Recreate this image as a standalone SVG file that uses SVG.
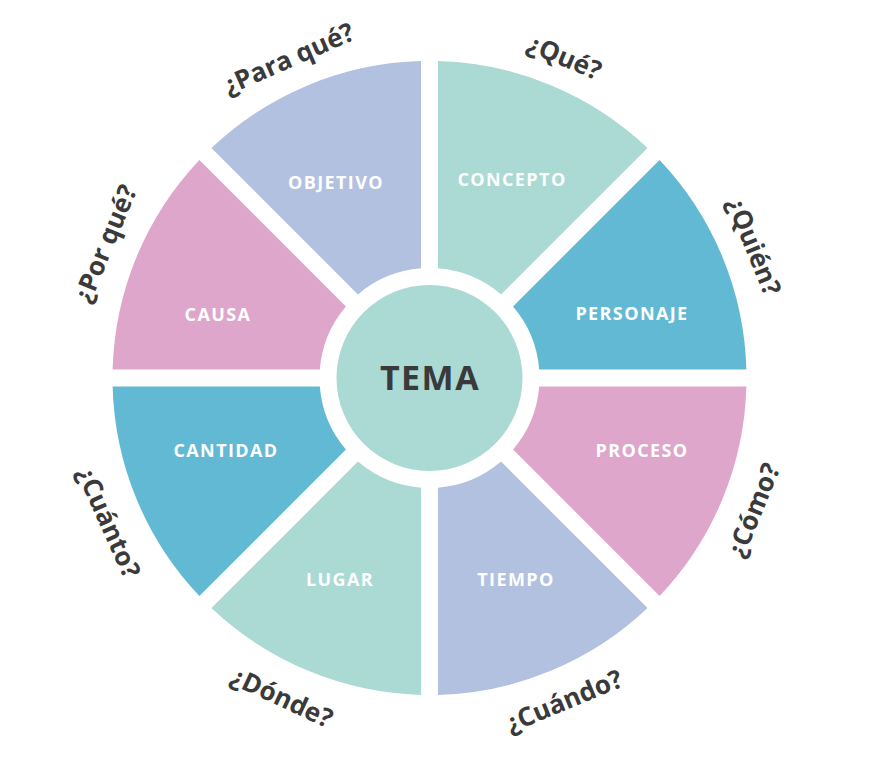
<svg xmlns="http://www.w3.org/2000/svg" width="896" height="762" viewBox="0 0 896 762">
<style>
.seg{stroke:none}
.teal{fill:#abd9d3}
.blue{fill:#62b9d3}
.pink{fill:#dea6cb}
.lav{fill:#b2c1e0}
.lbl{font-family:"Open Sans","Liberation Sans",sans-serif;font-weight:700;font-size:18px;fill:#ffffff;text-anchor:middle;letter-spacing:1.4px}
.q{font-family:"Open Sans","Liberation Sans",sans-serif;font-weight:700;font-size:26px;fill:#3a3a3a;text-anchor:middle}
.tema{font-family:"Open Sans","Liberation Sans",sans-serif;font-weight:700;font-size:34px;fill:#3a3a3a;text-anchor:middle;letter-spacing:1.5px}
</style>
<defs>
<path id="sector" d="M 8.5,-316.89 A 317 317 0 0 1 218.06,-230.08 L 71.54,-83.56 A 110 110 0 0 0 8.5,-109.67 Z"/>
</defs>
<rect width="896" height="762" fill="#ffffff"/>
<g id="concepto">
<use href="#sector" class="seg teal" transform="translate(429.5,378) rotate(0)"/>
<text class="lbl" x="512" y="185.5">CONCEPTO</text>
</g>
<g id="personaje">
<use href="#sector" class="seg blue" transform="translate(429.5,378) rotate(45)"/>
<text class="lbl" x="632" y="320">PERSONAJE</text>
</g>
<g id="proceso">
<use href="#sector" class="seg pink" transform="translate(429.5,378) rotate(90)"/>
<text class="lbl" x="642" y="456.5">PROCESO</text>
</g>
<g id="tiempo">
<use href="#sector" class="seg lav" transform="translate(429.5,378) rotate(135)"/>
<text class="lbl" x="516" y="585.5">TIEMPO</text>
</g>
<g id="lugar">
<use href="#sector" class="seg teal" transform="translate(429.5,378) rotate(180)"/>
<text class="lbl" x="340" y="585.5">LUGAR</text>
</g>
<g id="cantidad">
<use href="#sector" class="seg blue" transform="translate(429.5,378) rotate(225)"/>
<text class="lbl" x="226" y="456.5">CANTIDAD</text>
</g>
<g id="causa">
<use href="#sector" class="seg pink" transform="translate(429.5,378) rotate(270)"/>
<text class="lbl" x="218" y="320.5">CAUSA</text>
</g>
<g id="objetivo">
<use href="#sector" class="seg lav" transform="translate(429.5,378) rotate(315)"/>
<text class="lbl" x="336" y="188.5">OBJETIVO</text>
</g>
<g id="tema">
<circle cx="429.5" cy="378" r="93" class="teal"/>
<text class="tema" x="430" y="390">TEMA</text>
</g>
<g id="preguntas">
<text class="q" transform="translate(429.5,378) rotate(22.8) translate(0,-348)" y="9">¿Qué?</text>
<text class="q" transform="translate(429.5,378) rotate(67.9) translate(0,-350)" y="9">¿Quién?</text>
<text class="q" transform="translate(429.5,378) rotate(112.2) translate(0,-350) rotate(180)" y="9">¿Cómo?</text>
<text class="q" transform="translate(429.5,378) rotate(157.4) translate(0,-350) rotate(180)" y="9">¿Cuándo?</text>
<text class="q" transform="translate(429.5,378) rotate(204.8) translate(0,-352) rotate(180)" y="9">¿Dónde?</text>
<text class="q" transform="translate(429.5,378) rotate(245.8) translate(0,-352) rotate(180)" y="9">¿Cuánto?</text>
<text class="q" transform="translate(429.5,378) rotate(292.5) translate(0,-351) " y="9">¿Por qué?</text>
<text class="q" transform="translate(429.5,378) rotate(336.2) translate(0,-349)" y="9">¿Para qué?</text>
</g>
</svg>
